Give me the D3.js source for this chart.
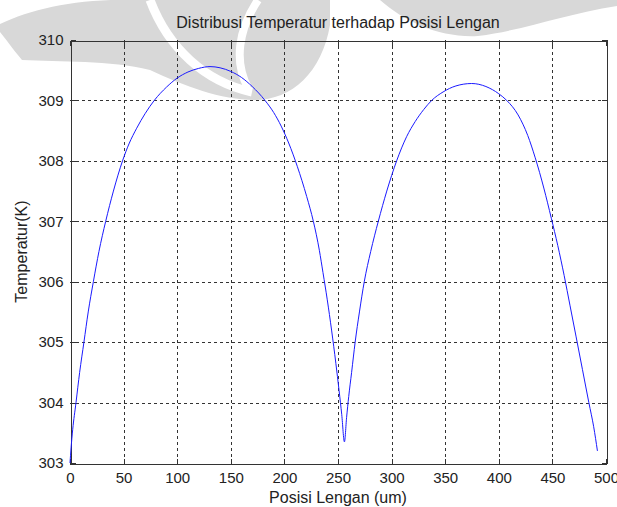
<!DOCTYPE html>
<html>
<head>
<meta charset="utf-8">
<script src="https://cdn.jsdelivr.net/npm/d3@7/dist/d3.min.js"></script>
<style>
  html, body { margin: 0; padding: 0; background: #fff; }
  svg { display: block; }
  text { font-family: "Liberation Sans", Arial, sans-serif; fill: #222; }
</style>
</head>
<body>
<script>
// ---- data ----
const posisi = [0, 1, 2.5, 5.6, 9, 13, 17, 21.8, 27, 33.3, 40.5, 49, 55, 62.2, 70, 78.6, 90, 100, 110, 120, 130.6, 140, 150, 160, 170, 181.9, 190, 197, 204, 212, 220.8, 227, 232.6, 236, 240, 244, 248, 251, 253.5, 256,
                258, 260, 262.7, 266, 270, 274.5, 280.5, 287.6, 295.5, 304.7, 314, 322, 330, 337.4, 348, 360, 374.7, 388, 400, 407.4, 418, 427, 434, 442, 449, 455, 461, 466.5, 472, 478, 484, 488.5, 492];
const temperatur = [303.0, 303.25, 303.55, 304.0, 304.5, 305.0, 305.5, 306.0, 306.5, 307.0, 307.5, 308.0, 308.28, 308.54, 308.78, 309.0, 309.22, 309.37, 309.47, 309.53, 309.56, 309.54, 309.48, 309.38, 309.23, 309.0, 308.8, 308.575, 308.295, 307.91, 307.41, 307.0, 306.52, 306.15, 305.7, 305.2, 304.65, 304.2, 303.8, 303.35,
                303.75, 304.1, 304.5, 305.0, 305.5, 306.0, 306.5, 307.0, 307.5, 308.0, 308.4, 308.65, 308.85, 309.0, 309.14, 309.24, 309.28, 309.23, 309.11, 309.0, 308.76, 308.42, 308.05, 307.55, 307.05, 306.6, 306.1, 305.6, 305.1, 304.55, 304.0, 303.6, 303.2];
const xTicks = [0, 50, 100, 150, 200, 250, 300, 350, 400, 450, 500];
const yTicks = [303, 304, 305, 306, 307, 308, 309, 310];
const titleText = "Distribusi Temperatur terhadap Posisi Lengan";
const xLabel = "Posisi Lengan (um)";
const yLabel = "Temperatur(K)";

// ---- layout ----
const W = 617, H = 507;
const L = 70, R = 606, T = 40, B = 463;
const FS = 16, TFS = 15;

const svg = d3.select("body").append("svg").attr("width", W).attr("height", H);
svg.append("rect").attr("width", W).attr("height", H).attr("fill", "#fff");

// watermark (approximate)
const wm = svg.append("g").attr("fill", "#d8d8d8");
wm.append("path").attr("d", "M0,24 C30,10 70,0 120,0 L330,0 L330,25 C322,72 292,100 255,100 C220,100 185,86 150,70 C110,60 60,62 22,60 C12,48 5,38 0,32 Z");
wm.append("path").attr("d", "M380,0 L617,0 L617,6 C565,14 525,30 478,36 C440,38 405,22 380,0 Z");
svg.append("path").attr("d", "M150,0 C168,48 205,82 252,92").attr("fill", "none").attr("stroke", "#fff").attr("stroke-width", 9);
svg.append("path").attr("d", "M258,0 C238,30 234,62 248,88").attr("fill", "none").attr("stroke", "#fff").attr("stroke-width", 8);

const x = d3.scaleLinear().domain([0, 500]).range([L, R]);
const y = d3.scaleLinear().domain([303, 310]).range([B, T]);

// grid
const grid = svg.append("g").attr("stroke", "#333").attr("stroke-width", 1).attr("stroke-dasharray", "3,3").attr("shape-rendering", "crispEdges");
xTicks.slice(1, -1).forEach(v => {
  grid.append("line").attr("x1", Math.round(x(v)) + 0.5).attr("x2", Math.round(x(v)) + 0.5).attr("y1", T).attr("y2", B);
});
yTicks.slice(1, -1).forEach(v => {
  grid.append("line").attr("y1", Math.round(y(v)) + 0.5).attr("y2", Math.round(y(v)) + 0.5).attr("x1", L).attr("x2", R);
});

// axes with inward ticks (bottom/left labelled, top/right ticks only)
const tickLen = 5;
const axB = d3.axisBottom(x).tickValues(xTicks).tickSize(-tickLen).tickPadding(9).tickFormat(d3.format("d"));
const axT = d3.axisTop(x).tickValues(xTicks).tickSize(-tickLen).tickFormat("");
const axL = d3.axisLeft(y).tickValues(yTicks).tickSize(-tickLen).tickPadding(7).tickFormat(d3.format("d"));
const axR = d3.axisRight(y).tickValues(yTicks).tickSize(-tickLen).tickFormat("");

function style(g) {
  g.selectAll("path.domain").attr("stroke", "#333");
  g.selectAll(".tick line").attr("stroke", "#333");
  g.selectAll(".tick text").attr("font-size", TFS).attr("fill", "#222")
    .style("font-family", '"Liberation Sans", Arial, sans-serif');
  g.attr("shape-rendering", "crispEdges");
}
svg.append("g").attr("transform", `translate(0,${B + 0.5})`).call(axB).call(style);
svg.append("g").attr("transform", `translate(0,${T + 0.5})`).call(axT).call(style);
svg.append("g").attr("transform", `translate(${L + 0.5},0)`).call(axL).call(style);
svg.append("g").attr("transform", `translate(${R + 0.5},0)`).call(axR).call(style);

// line
const line = d3.line().x((d, i) => x(posisi[i])).y(d => y(d)).curve(d3.curveMonotoneX);
svg.append("path").datum(temperatur).attr("d", line)
  .attr("fill", "none").attr("stroke", "#1a1aff").attr("stroke-width", 1);

// texts
function label(tx, ty, rot, str) {
  svg.append("text")
    .attr("transform", `translate(${tx},${ty}) rotate(${rot})`)
    .attr("text-anchor", "middle").attr("font-size", FS).text(str);
}
label((L + R) / 2, 28, 0, titleText);
label((L + R) / 2, 503, 0, xLabel);
label(27, (T + B) / 2, -90, yLabel);
</script>
</body>
</html>
